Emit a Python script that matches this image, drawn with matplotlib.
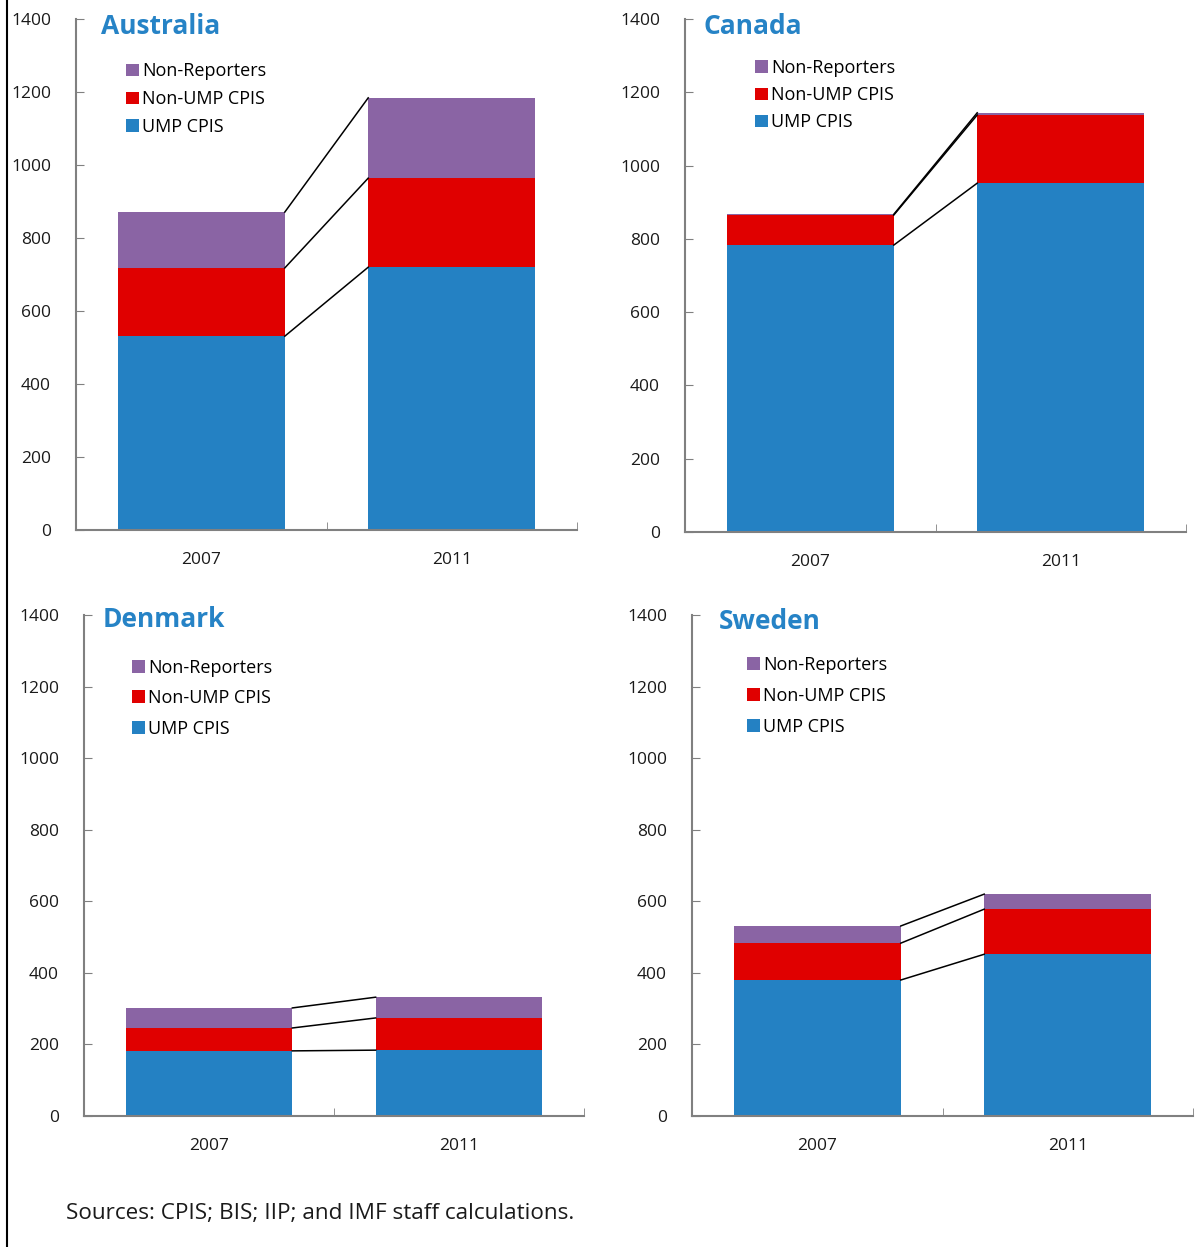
import matplotlib
matplotlib.use("Agg")
import matplotlib.pyplot as plt
from matplotlib.lines import Line2D
import numpy as np

plt.rcParams['font.family'] = ['Open Sans', 'DejaVu Sans']

years = ["2007", "2011"]
series = ["UMP CPIS", "Non-UMP CPIS", "Non-Reporters"]
colors = ["#2481c3", "#e00000", "#8a64a4"]

ump = {"Australia": [531, 720], "Canada": [783, 952],
       "Denmark": [182, 184], "Sweden": [380, 452]}
non_ump = {"Australia": [187, 244], "Canada": [82, 186],
           "Denmark": [64, 90], "Sweden": [103, 126]}
non_rep = {"Australia": [153, 220], "Canada": [2, 6],
           "Denmark": [56, 58], "Sweden": [48, 42]}

countries = ["Australia", "Canada", "Denmark", "Sweden"]

# axes rectangles in pixels (left, bottom, right, top)
W, H = 1201, 1247
boxes = {
    "Australia": (76, 530, 577, 19),
    "Canada": (685, 532, 1186, 19),
    "Denmark": (84, 1116, 584, 615),
    "Sweden": (692, 1116, 1193, 615),
}
title_pos = {"Australia": (0.05, 0.986), "Canada": (0.036, 0.986),
             "Denmark": (0.038, 0.992), "Sweden": (0.054, 0.988)}
legend_pos = {"Australia": (0.10, 0.915), "Canada": (0.14, 0.922),
              "Denmark": (0.096, 0.913), "Sweden": (0.11, 0.918)}
legend_sp = {"Australia": 0.54, "Canada": 0.51, "Denmark": 0.69, "Sweden": 0.71}

fig = plt.figure(figsize=(W / 100, H / 100), dpi=100)
fig.add_artist(Line2D([7 / W, 7 / W], [0, 1], color="black", lw=1.5))

x = np.arange(len(years))
bw = 0.667
for c in countries:
    l, b, r, t = boxes[c]
    ax = fig.add_axes([l / W, 1 - b / H, (r - l) / W, (b - t) / H])
    layers = [ump[c], non_ump[c], non_rep[c]]
    bottom = np.zeros(len(years))
    handles = []
    tops = []
    for vals, col, name in zip(layers, colors, series):
        h = ax.bar(x, vals, bw, bottom=bottom, color=col, label=name)
        handles.append(h)
        bottom = bottom + np.array(vals)
        tops.append(bottom.copy())
    for top in tops:
        ax.plot([x[0] + bw / 2, x[1] - bw / 2], [top[0], top[1]],
                color="black", lw=1.1, zorder=3)
    ax.set_xlim(-0.5, 1.5)
    ax.set_ylim(0, 1400)
    ax.set_yticks(np.arange(0, 1401, 200))
    ax.set_xticks(x)
    ax.set_xticklabels(years)
    ax.set_xticks([-0.5, 0.5, 1.5], minor=True)
    ax.tick_params(axis="x", which="major", length=0, pad=16, labelsize=12.5,
                   colors="#1a1a1a")
    ax.tick_params(axis="x", which="minor", direction="in", length=6,
                   color="#808080")
    ax.tick_params(axis="y", direction="in", length=6, color="#808080",
                   pad=18, labelsize=12.5, labelcolor="#1a1a1a")
    for s in ["top", "right"]:
        ax.spines[s].set_visible(False)
    for s in ["left", "bottom"]:
        ax.spines[s].set_color("#808080")
        ax.spines[s].set_linewidth(1.5)
    tx, ty = title_pos[c]
    ax.text(tx, ty, c, transform=ax.transAxes, fontsize=19, fontweight="bold",
            color="#2683c6", va="center", ha="left")
    ax.legend(handles[::-1], series[::-1], loc="upper left",
              bbox_to_anchor=legend_pos[c], frameon=False, fontsize=13,
              handlelength=0.7, handleheight=0.7, handletextpad=0.2,
              labelspacing=legend_sp[c], borderpad=0, borderaxespad=0)

fig.text(66 / W, 1 - 1213 / H, "Sources: CPIS; BIS; IIP; and IMF staff calculations.",
         fontsize=16.2, va="center", ha="left", color="#1a1a1a")

fig.savefig("out.png", dpi=100)
